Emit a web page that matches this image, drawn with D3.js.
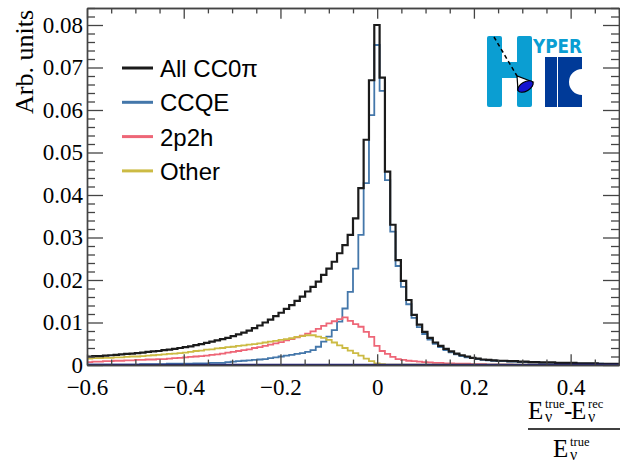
<!DOCTYPE html>
<html>
<head>
<meta charset="utf-8">
<title>CC0pi energy resolution</title>
<script src="https://cdn.jsdelivr.net/npm/d3@7"></script>
<style>
  body { margin: 0; background: #fff; }
  svg { display: block; }
</style>
</head>
<body>

<svg id="chart" width="620" height="463"></svg>

<script>

// histogram binning: 100 bins between -0.6 and 0.5
var xMin = -0.6, xMax = 0.5, nBins = 100

var allCC0pi = [
  0.0020, 0.0021, 0.0021, 0.0022, 0.0023, 0.0024, 0.0025, 0.0026, 0.0027, 0.0028,
  0.0029, 0.0031, 0.0032, 0.0033, 0.0035, 0.0036, 0.0038, 0.0040, 0.0042, 0.0044,
  0.0047, 0.0049, 0.0052, 0.0055, 0.0058, 0.0061, 0.0064, 0.0068, 0.0072, 0.0076,
  0.0081, 0.0087, 0.0093, 0.0100, 0.0107, 0.0115, 0.0123, 0.0132, 0.0141, 0.0151,
  0.0161, 0.0173, 0.0184, 0.0196, 0.0212, 0.0227, 0.0243, 0.0263, 0.0282, 0.0306,
  0.0345, 0.0416, 0.0530, 0.0670, 0.0800, 0.0676, 0.0455, 0.0330, 0.0247, 0.0198,
  0.0153, 0.0118, 0.0095, 0.0078, 0.0064, 0.0053, 0.0045, 0.0038, 0.0032, 0.0027,
  0.0023, 0.0020, 0.0017, 0.0015, 0.0013, 0.0012, 0.0011, 0.0010, 0.0010, 0.0009,
  0.0009, 0.0008, 0.0008, 0.0007, 0.0007, 0.0006, 0.0006, 0.0006, 0.0005, 0.0005,
  0.0005, 0.0005, 0.0004, 0.0004, 0.0004, 0.0004, 0.0003, 0.0003, 0.0003, 0.0003
]

var ccqe = [
  0.0001, 0.0001, 0.0001, 0.0001, 0.0001, 0.0001, 0.0001, 0.0001, 0.0001, 0.0001,
  0.0002, 0.0002, 0.0002, 0.0002, 0.0002, 0.0003, 0.0003, 0.0003, 0.0003, 0.0003,
  0.0004, 0.0004, 0.0004, 0.0005, 0.0005, 0.0005, 0.0007, 0.0008, 0.0009, 0.0010,
  0.0011, 0.0012, 0.0013, 0.0014, 0.0016, 0.0018, 0.0020, 0.0022, 0.0024, 0.0026,
  0.0028, 0.0031, 0.0035, 0.0043, 0.0055, 0.0067, 0.0082, 0.0102, 0.0133, 0.0172,
  0.0227, 0.0306, 0.0428, 0.0588, 0.0753, 0.0645, 0.0435, 0.0314, 0.0233, 0.0184,
  0.0143, 0.0111, 0.0089, 0.0073, 0.0060, 0.0050, 0.0042, 0.0035, 0.0030, 0.0025,
  0.0021, 0.0018, 0.0016, 0.0014, 0.0012, 0.0011, 0.0010, 0.0009, 0.0009, 0.0008,
  0.0008, 0.0007, 0.0007, 0.0006, 0.0006, 0.0005, 0.0005, 0.0005, 0.0004, 0.0004,
  0.0004, 0.0004, 0.0003, 0.0003, 0.0003, 0.0003, 0.0003, 0.0002, 0.0002, 0.0002
]

var twoP2h = [
  0.0007, 0.0008, 0.0008, 0.0009, 0.0009, 0.0010, 0.0010, 0.0011, 0.0011, 0.0012,
  0.0012, 0.0013, 0.0013, 0.0014, 0.0014, 0.0015, 0.0016, 0.0017, 0.0018, 0.0019,
  0.0020, 0.0021, 0.0022, 0.0024, 0.0025, 0.0027, 0.0029, 0.0031, 0.0033, 0.0035,
  0.0037, 0.0040, 0.0042, 0.0045, 0.0048, 0.0051, 0.0054, 0.0058, 0.0061, 0.0065,
  0.0069, 0.0074, 0.0079, 0.0085, 0.0092, 0.0098, 0.0103, 0.0108, 0.0112, 0.0104,
  0.0096, 0.0090, 0.0078, 0.0066, 0.0045, 0.0033, 0.0026, 0.0019, 0.0014, 0.0012,
  0.0010, 0.0009, 0.0008, 0.0007, 0.0006, 0.0005, 0.0005, 0.0004, 0.0004, 0.0003,
  0.0003, 0.0003, 0.0002, 0.0002, 0.0002, 0.0001, 0.0001, 0.0001, 0.0001, 0.0001,
  0, 0, 0, 0, 0, 0, 0, 0, 0, 0,
  0, 0, 0, 0, 0, 0, 0, 0, 0, 0
]

var other = [
  0.0015, 0.0016, 0.0016, 0.0017, 0.0017, 0.0018, 0.0018, 0.0019, 0.0020, 0.0020,
  0.0021, 0.0022, 0.0023, 0.0024, 0.0025, 0.0026, 0.0027, 0.0028, 0.0029, 0.0031,
  0.0033, 0.0034, 0.0036, 0.0037, 0.0039, 0.0040, 0.0042, 0.0043, 0.0045, 0.0046,
  0.0048, 0.0049, 0.0051, 0.0053, 0.0055, 0.0057, 0.0059, 0.0061, 0.0063, 0.0066,
  0.0068, 0.0070, 0.0070, 0.0067, 0.0064, 0.0059, 0.0053, 0.0046, 0.0040, 0.0034,
  0.0028, 0.0022, 0.0015, 0.0009, 0.0004, 0.0002, 0.0001, 0.0001, 0.0001, 0.0001,
  0.0001, 0.0001, 0.0001, 0.0001, 0.0001, 0.0001, 0.0001, 0.0001, 0.0001, 0.0001,
  0.0001, 0.0001, 0.0001, 0.0001, 0.0001, 0.0001, 0.0001, 0.0001, 0.0001, 0.0001,
  0.0001, 0.0001, 0.0001, 0.0001, 0.0001, 0.0001, 0.0001, 0.0001, 0.0001, 0.0001,
  0.0001, 0.0001, 0.0001, 0.0001, 0.0001, 0.0001, 0.0001, 0.0001, 0.0001, 0.0001
]

var yTicks = [0, 0.01, 0.02, 0.03, 0.04, 0.05, 0.06, 0.07, 0.08]
var xTicks = [-0.6, -0.4, -0.2, 0, 0.2, 0.4]
var legendLabels = ['All CC0\u03c0', 'CCQE', '2p2h', 'Other']

var series = [
  {name: legendLabels[0], values: allCC0pi, color: '#1b1b1b', width: 2.2},
  {name: legendLabels[1], values: ccqe, color: '#4477aa', width: 1.8},
  {name: legendLabels[2], values: twoP2h, color: '#ee6677', width: 1.8},
  {name: legendLabels[3], values: other, color: '#ccbb44', width: 1.8}
]

var svg = d3.select('#chart')
var frame = {left: 87, top: 8, right: 619, bottom: 365}
var serif = "'Liberation Serif', 'Times New Roman', serif"
var sans = "'Liberation Sans', Arial, Helvetica, sans-serif"

var x = d3.scaleLinear().domain([xMin, xMax]).range([frame.left, frame.right])
var y = d3.scaleLinear().domain([0, 0.084]).range([frame.bottom, frame.top])

var binW = (xMax - xMin) / nBins

// minor ticks
var yMinor = d3.range(0, 43).filter(function(i) {return i % 5 != 0}).map(function(i) {return i * 0.002})
var xMinor = d3.range(0, 23).filter(function(i) {return i % 4 != 0}).map(function(i) {return xMin + i * 0.05})

svg.append('defs').append('clipPath').attr('id', 'plot-clip')
  .append('rect')
  .attr('x', frame.left).attr('y', frame.top)
  .attr('width', frame.right - frame.left).attr('height', frame.bottom - frame.top)

// histograms
var stepLine = d3.line()
  .x(function(d) {return x(d[0])})
  .y(function(d) {return y(d[1])})
  .curve(d3.curveStepAfter)

function histPoints(vals) {
  var pts = vals.map(function(v, i) {return [xMin + i * binW, v]})
  pts.push([xMax, vals[vals.length - 1]])
  return pts
}

var g_hist = svg.append('g').attr('clip-path', 'url(#plot-clip)')

// draw coloured components first, total on top
series.slice(1).concat([series[0]]).forEach(function(s) {
  g_hist.append('path')
    .attr('d', stepLine(histPoints(s.values)))
    .attr('fill', 'none')
    .attr('stroke', s.color)
    .attr('stroke-width', s.width)
})

// zero line along the bottom
g_hist.append('path')
  .attr('d', d3.line().x(function(d) {return x(d[0])}).y(function(d) {return y(d[1])})([[xMin, 0], [xMax, 0]]))
  .attr('stroke', '#1a1a7e')
  .attr('stroke-width', 2.5)

// axes
function styleAxis(g) {
  g.select('.domain').attr('stroke', '#444').attr('stroke-width', 1.4)
  g.selectAll('.tick line').attr('stroke', '#444').attr('stroke-width', 1.3)
  g.selectAll('.tick text').attr('font-family', serif).attr('font-size', 23).attr('fill', '#000')
}

var fmtY = function(d) {return d == 0 ? '0' : d3.format('.2f')(d)}
var fmtX = function(d) {return Math.abs(d) < 1e-9 ? '0' : d3.format('.1f')(d)}

svg.append('g').attr('transform', 'translate(0,' + frame.bottom + ')')
  .call(d3.axisBottom(x).tickValues(xMinor).tickSize(-5.4).tickSizeOuter(0).tickFormat(''))
  .call(styleAxis)
svg.append('g').attr('transform', 'translate(0,' + frame.bottom + ')')
  .call(d3.axisBottom(x).tickValues(xTicks).tickSize(-10.7).tickSizeOuter(0).tickPadding(14).tickFormat(fmtX))
  .call(styleAxis)

svg.append('g').attr('transform', 'translate(0,' + frame.top + ')')
  .call(d3.axisTop(x).tickValues(xMinor).tickSize(-5.4).tickSizeOuter(0).tickFormat(''))
  .call(styleAxis)
svg.append('g').attr('transform', 'translate(0,' + frame.top + ')')
  .call(d3.axisTop(x).tickValues(xTicks).tickSize(-10.7).tickSizeOuter(0).tickFormat(''))
  .call(styleAxis)

svg.append('g').attr('transform', 'translate(' + frame.left + ',0)')
  .call(d3.axisLeft(y).tickValues(yMinor).tickSize(-8).tickSizeOuter(0).tickFormat(''))
  .call(styleAxis)
svg.append('g').attr('transform', 'translate(' + frame.left + ',0)')
  .call(d3.axisLeft(y).tickValues(yTicks).tickSize(-16).tickSizeOuter(0).tickPadding(4).tickFormat(fmtY))
  .call(styleAxis)

svg.append('g').attr('transform', 'translate(' + frame.right + ',0)')
  .call(d3.axisRight(y).tickValues(yMinor).tickSize(-8).tickSizeOuter(0).tickFormat(''))
  .call(styleAxis)
svg.append('g').attr('transform', 'translate(' + frame.right + ',0)')
  .call(d3.axisRight(y).tickValues(yTicks).tickSize(-16).tickSizeOuter(0).tickFormat(''))
  .call(styleAxis)

// y title
svg.append('text')
  .attr('transform', 'translate(33,10) rotate(-90)')
  .attr('text-anchor', 'end')
  .attr('font-family', serif)
  .attr('font-size', 26)
  .text('Arb. units')

// x title as a fraction: each line is one text element with positioned tspans
var xt = svg.append('g').attr('font-family', serif).attr('fill', '#000')
function eTerm(t, x0, yb, sup) {
  t.append('tspan').attr('x', x0).attr('y', yb).attr('font-size', 25).text('E')
  t.append('tspan').attr('x', x0 + 17).attr('y', yb + 3).attr('font-size', 16).text('\u03bd')
  t.append('tspan').attr('x', x0 + 17).attr('y', yb - 11).attr('font-size', 12.5).text(sup)
}
var numer = xt.append('text')
eTerm(numer, 528, 419, 'true')
numer.append('tspan').attr('x', 564).attr('y', 419).attr('font-size', 25).text('-')
eTerm(numer, 571, 419, 'rec')
xt.append('line').attr('x1', 528).attr('x2', 620).attr('y1', 429).attr('y2', 429)
  .attr('stroke', '#000').attr('stroke-width', 1.6)
var denom = xt.append('text')
eTerm(denom, 553, 457, 'true')

// legend
var legend = svg.append('g').attr('transform', 'translate(122,68)')
series.forEach(function(s, i) {
  var row = legend.append('g').attr('transform', 'translate(0,' + (i * 34.3) + ')')
  row.append('line').attr('x1', 0).attr('x2', 31).attr('y1', 0).attr('y2', 0)
    .attr('stroke', s.color).attr('stroke-width', 3)
  row.append('text').attr('x', 38).attr('y', 9)
    .attr('font-family', sans).attr('font-size', 24).attr('fill', '#000')
    .text(s.name)
})

// Hyper-K logo
var logo = svg.append('g')
var lightBlue = '#0b9ed2', darkBlue = '#003a98'
logo.append('rect').attr('x', 487).attr('y', 36).attr('width', 15).attr('height', 71).attr('rx', 2).attr('fill', lightBlue)
logo.append('rect').attr('x', 517).attr('y', 36).attr('width', 15).attr('height', 71).attr('rx', 2).attr('fill', lightBlue)
logo.append('rect').attr('x', 500).attr('y', 62).attr('width', 19).attr('height', 16).attr('fill', lightBlue)
logo.append('text').attr('x', 533).attr('y', 53)
  .attr('font-family', "'DejaVu Sans Condensed', 'DejaVu Sans', sans-serif")
  .attr('font-weight', 'bold').attr('font-size', 20)
  .attr('textLength', 49).attr('lengthAdjust', 'spacingAndGlyphs')
  .attr('fill', lightBlue).text('YPER')
logo.append('rect').attr('x', 545).attr('y', 57).attr('width', 12).attr('height', 50).attr('fill', darkBlue)
logo.append('path').attr('d', 'M558,57 L582,57 L582,69 A13,13 0 0,0 582,95 L582,107 L558,107 Z').attr('fill', darkBlue)
logo.append('line').attr('x1', 494).attr('y1', 37).attr('x2', 517).attr('y2', 76)
  .attr('stroke', '#000').attr('stroke-width', 1.5).attr('stroke-dasharray', '4,3')
logo.append('path').attr('d', 'M517,76 L518,90 L533,82 Z').attr('fill', '#fff').attr('stroke', '#000').attr('stroke-width', 1.2)
logo.append('ellipse').attr('cx', 0).attr('cy', 0).attr('rx', 8.5).attr('ry', 4.5)
  .attr('transform', 'translate(525.5,86.5) rotate(-30)')
  .attr('fill', '#1414d0').attr('stroke', '#000').attr('stroke-width', 1.2)

</script>

</body>
</html>
